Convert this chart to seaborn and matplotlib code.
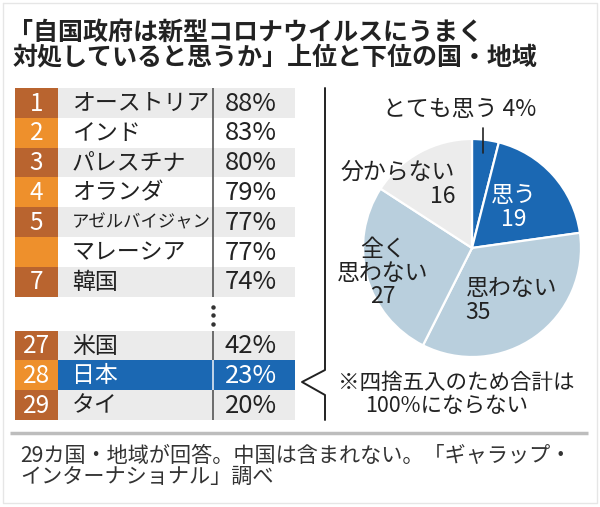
import matplotlib
matplotlib.use("Agg")
import matplotlib.pyplot as plt
import seaborn as sns
import numpy as np

# ---------------- data ----------------
ranks = ["1", "2", "3", "4", "5", "", "7", "27", "28", "29"]
countries = ["オーストリア", "インド", "パレスチナ", "オランダ", "アゼルバイジャン",
             "マレーシア", "韓国", "米国", "日本", "タイ"]
percents = [88, 83, 80, 79, 77, 77, 74, 42, 23, 20]
highlight = "日本"

pie_labels = ["とても思う", "思う", "思わない", "全く思わない", "分からない"]
pie_values = [4, 19, 35, 27, 16]

title_lines = ["「自国政府は新型コロナウイルスにうまく",
               "対処していると思うか」上位と下位の国・地域"]
note_lines = ["※四捨五入のため合計は", "100%にならない"]
footer_lines = ["29カ国・地域が回答。中国は含まれない。「ギャラップ・",
                "インターナショナル」調べ"]

# ---------------- style ----------------
sns.set_theme(style="white")
plt.rcParams["font.family"] = ["Noto Sans CJK JP", "DejaVu Sans"]

BROWN = "#b9642f"
ORANGE = "#ee902c"
GRAY = "#ebebeb"
BLUE = "#1b68b3"
LIGHTBLUE = "#b9cfdd"
PALE = "#ececec"
TXT = "#222222"

W, H = 600, 507
fig = plt.figure(figsize=(W / 100, H / 100), dpi=100)
fig.patch.set_facecolor("white")

# overlay in pixel coordinates
ov = fig.add_axes([0, 0, 1, 1])
ov.set_xlim(0, W)
ov.set_ylim(H, 0)
ov.axis("off")
ov.patch.set_alpha(0)

# faint frame
ov.plot([3, 597, 597, 3, 3], [3, 3, 503, 503, 3], color="#e6e6e6", lw=1)

# title
ov.text(8, 33, title_lines[0], fontsize=18, fontweight="bold", color=TXT,
        ha="left", va="center")
ov.text(13, 57, title_lines[1], fontsize=18, fontweight="bold", color=TXT,
        ha="left", va="center")

# footer
ov.plot([10, 588], [433, 433], color="#bdbdbd", lw=2.5, solid_capstyle="butt")
ov.text(20, 456, footer_lines[0], fontsize=15.2, color="#333333", ha="left", va="center")
ov.text(20, 477, footer_lines[1], fontsize=15.2, color="#333333", ha="left", va="center")

# bracket
ov.plot([325, 325, 302, 325, 325], [88, 370, 382, 395, 420], color=TXT, lw=1.4)

# note
ov.text(456, 383, note_lines[0], fontsize=15.5, color=TXT, ha="center", va="center")
ov.text(447, 406, note_lines[1], fontsize=15.5, color=TXT, ha="center", va="center")

# ---------------- table ----------------
tx0, tx1, ty0, ty1 = 15, 295, 88, 420
tab = fig.add_axes([tx0 / W, 1 - ty1 / H, (tx1 - tx0) / W, (ty1 - ty0) / H])
tab.set_xlim(0, tx1 - tx0)
n_top = 7
gap = 1.13
ypos = [i if i < n_top else i + gap for i in range(len(countries))]
tab.set_ylim(ypos[-1] + 1, 0)
tab.axis("off")

rank_w, name_w = 43, 155
sep_x = rank_w + name_w
row_bg = []
rank_bg = []
for i, c in enumerate(countries):
    k = i if i < n_top else i - n_top
    if c == highlight:
        row_bg.append(BLUE)
    else:
        row_bg.append(GRAY if k % 2 == 0 else "white")
    rank_bg.append(BROWN if k % 2 == 0 else ORANGE)

centers = [y + 0.5 for y in ypos]
tab.barh(centers, [tx1 - tx0 - rank_w] * len(centers), left=rank_w, height=1.0,
         color=row_bg, edgecolor="none")
tab.barh(centers, [rank_w] * len(centers), left=0, height=1.0,
         color=rank_bg, edgecolor="none")

for y, r, c, p, bg in zip(ypos, ranks, countries, percents, row_bg):
    hi = (c == highlight)
    tcol = "white" if hi else TXT
    tab.vlines(sep_x, y, y + 1, color="#dfe8f2" if hi else "#555555", lw=1.2)
    tab.text(rank_w / 2, y + 0.52, r, color="white", fontsize=17.5,
             ha="center", va="center")
    fs = 12.5 if len(c) > 6 else 16.5
    tab.text(57, y + 0.52, c, color=tcol, fontsize=fs, ha="left", va="center")
    tab.text(236, y + 0.52, f"{p}%", color=tcol, fontsize=18.5, ha="center", va="center")

# dots in the gap
dot_y = [n_top + gap * f for f in (0.3, 0.55, 0.8)]
tab.plot([sep_x] * 3, dot_y, "o", color="#333333", ms=2.2)

# ---------------- pie ----------------
cx, cy, R = 472, 248, 109
pax = fig.add_axes([(cx - R) / W, 1 - (cy + R) / H, 2 * R / W, 2 * R / H])
pie_colors = [BLUE, BLUE, LIGHTBLUE, LIGHTBLUE, PALE]
pax.pie(pie_values, colors=pie_colors, startangle=90, counterclock=False,
        radius=1, wedgeprops=dict(edgecolor="white", linewidth=1.6))
pax.set_xlim(-1, 1)
pax.set_ylim(-1, 1)
pax.set_aspect("equal")
pax.axis("off")

fsp = 16.5
pax.text(-0.11, 1.27, f"{pie_labels[0]} {pie_values[0]}%", fontsize=fsp, color=TXT,
         ha="center", va="center", clip_on=False)
pax.plot([0.10, 0.10], [1.10, 0.87], color=TXT, lw=1.2, clip_on=False)
pax.text(0.38, 0.37, f"{pie_labels[1]}\n{pie_values[1]}", fontsize=fsp, color="white",
         ha="center", va="center", linespacing=1.05)
pax.text(-0.155, 0.585, f"{pie_labels[4]}\n{pie_values[4]}", fontsize=fsp, color=TXT,
         ha="right", va="center", linespacing=1.05, multialignment="right")
pax.text(-0.40, -0.23, f"全く\n思わない\n{pie_values[3]}", fontsize=fsp, color=TXT,
         ha="right", va="center", linespacing=1.05, multialignment="center")
pax.text(-0.06, -0.48, f"{pie_labels[2]}\n{pie_values[2]}", fontsize=fsp, color=TXT,
         ha="left", va="center", linespacing=1.05, multialignment="left")

fig.savefig("out.png", dpi=100, facecolor="white")
